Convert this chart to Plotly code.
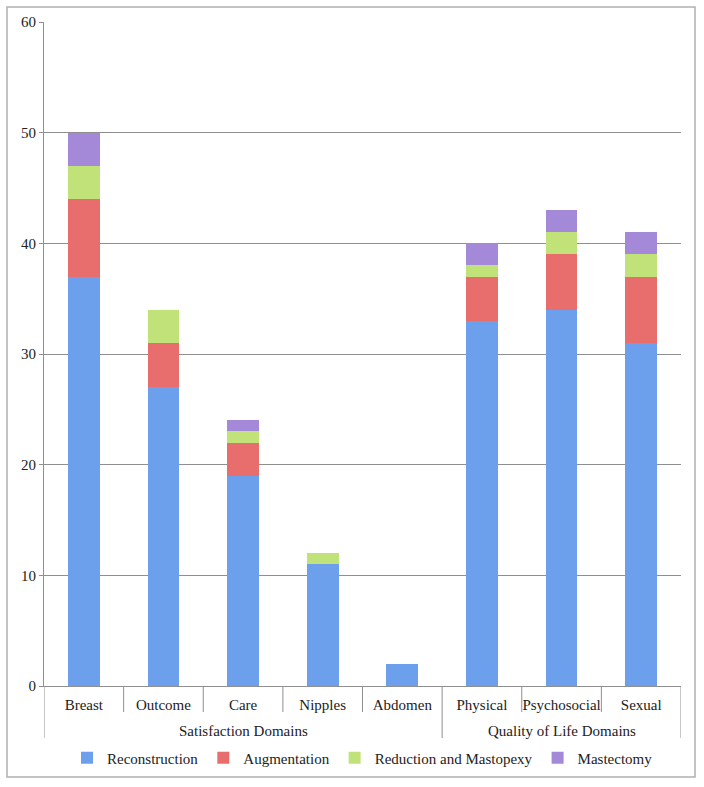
import plotly.graph_objects as go

groups = ["Satisfaction Domains"] * 5 + ["Quality of Life Domains"] * 3
categories = ["Breast", "Outcome", "Care", "Nipples", "Abdomen",
              "Physical", "Psychosocial", "Sexual"]
reconstruction = [37, 27, 19, 11, 2, 33, 34, 31]
augmentation = [7, 4, 3, 0, 0, 4, 5, 6]
reduction = [3, 3, 1, 1, 0, 1, 2, 2]
mastectomy = [3, 0, 1, 0, 0, 2, 2, 2]

series = [
    ("Reconstruction", reconstruction, "#6da0ec"),
    ("Augmentation", augmentation, "#e86e6e"),
    ("Reduction and Mastopexy", reduction, "#c0e278"),
    ("Mastectomy", mastectomy, "#a489d8"),
]

font = "Liberation Serif"
grey = "#8f8f8f"
PH = 664.0  # plot height in px

fig = go.Figure()
for name, vals, col in series:
    fig.add_trace(go.Bar(
        x=categories, y=vals, name=name,
        marker=dict(color=col, line=dict(width=0)),
    ))

fig.update_layout(
    barmode="stack", bargap=0.6,
    width=704, height=787,
    margin=dict(l=44, r=23, t=22, b=101),
    paper_bgcolor="white", plot_bgcolor="white",
    font=dict(family=font, size=15, color="#222"),
    legend=dict(orientation="h", x=0.5, xanchor="center", y=-72 / PH, yanchor="middle",
                font=dict(family=font, size=15), traceorder="normal", itemwidth=30),
    showlegend=True,
)
fig.update_yaxes(range=[0, 60], dtick=10, showgrid=True, gridcolor=grey, gridwidth=1,
                 showline=True, linecolor=grey, ticks="outside", ticklen=4,
                 tickcolor=grey, zeroline=False, automargin=False,
                 tickfont=dict(family=font, size=15))
fig.update_xaxes(showline=True, linecolor=grey, ticks="", tickangle=0, automargin=False,
                 range=[-0.5, len(categories) - 0.5], ticklabelstandoff=5,
                 tickfont=dict(family=font, size=15))

# separators between categories, longer ones at group boundaries and ends
n = len(categories)
for b in range(n + 1):
    pos = b - 0.5
    is_group_edge = b == 0 or b == n or groups[b] != groups[b - 1]
    depth = 52 if is_group_edge else 26
    fig.add_shape(type="line", xref="x", yref="paper", x0=pos, x1=pos,
                  y0=0, y1=-depth / PH, line=dict(color=grey, width=1))

# group labels
seen = []
for g in groups:
    if g not in seen:
        seen.append(g)
for g in seen:
    idx = [i for i, gg in enumerate(groups) if gg == g]
    fig.add_annotation(x=sum(idx) / len(idx), y=-45 / PH, xref="x", yref="paper",
                       text=g, showarrow=False, yanchor="middle",
                       font=dict(family=font, size=15, color="#222"))

fig.add_shape(type="rect", xref="paper", yref="paper",
              x0=-37 / 637, x1=1 + 14 / 637, y0=-91 / PH, y1=1 + 15 / PH,
              line=dict(color="#b0b0b0", width=1.5), fillcolor="rgba(0,0,0,0)")
fig.write_html("out.html", config={"displayModeBar": False},
               post_script="document.body.style.margin='0';")
